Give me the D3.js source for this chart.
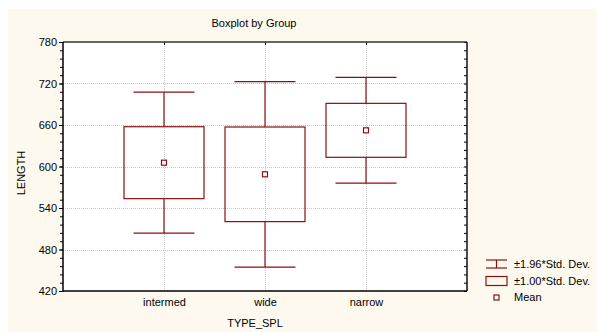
<!DOCTYPE html>
<html>
<head>
<meta charset="utf-8">
<script src="https://cdn.jsdelivr.net/npm/d3@7"></script>
<style>
  html, body { margin: 0; padding: 0; background: #ffffff; }
  svg { display: block; font-family: Arial, "Liberation Sans", sans-serif; }
</style>
</head>
<body>
<svg id="chart" width="597" height="332"></svg>
<script>
// Group statistics for LENGTH by TYPE_SPL
const groups = ["intermed", "wide", "narrow"];
const means = [605.5, 588.7, 652.3];
const stdDevs = [52.0, 68.4, 39.0];
const yTicks = [420, 480, 540, 600, 660, 720, 780];
const legendLabels = ["\u00b11.96*Std. Dev.", "\u00b11.00*Std. Dev.", "Mean"];

const W = 597, H = 332;
const plot = { left: 63, top: 42, right: 467, bottom: 291 };
const dark = "#8a1010";

const svg = d3.select("#chart");

// panel background
svg.append("rect").attr("x", 8).attr("y", 9).attr("width", W - 8).attr("height", H - 9)
  .attr("fill", "#fef9ee");
svg.append("rect").attr("x", plot.left).attr("y", plot.top)
  .attr("width", plot.right - plot.left).attr("height", plot.bottom - plot.top)
  .attr("fill", "#ffffff");

const y = d3.scaleLinear().domain([420, 780]).range([plot.bottom, plot.top]);
const xPos = d3.scaleLinear().domain([0, groups.length + 1]).range([plot.left, plot.right]);
const x = g => xPos(groups.indexOf(g) + 1);

// grid
const grid = svg.append("g").attr("stroke", "#c8c8c8").attr("stroke-dasharray", "1,1").attr("stroke-width", 1);
yTicks.slice(1, -1).forEach(t => {
  grid.append("line").attr("x1", plot.left).attr("x2", plot.right)
    .attr("y1", Math.round(y(t)) + 0.5).attr("y2", Math.round(y(t)) + 0.5);
});
groups.forEach(g => {
  grid.append("line").attr("x1", Math.round(x(g)) + 0.5).attr("x2", Math.round(x(g)) + 0.5)
    .attr("y1", plot.top).attr("y2", plot.bottom);
});

// left axis with minor ticks
const minor = d3.range(420, 781, 12);
const leftMinor = svg.append("g").attr("transform", `translate(${plot.left},0)`)
  .call(d3.axisLeft(y).tickValues(minor).tickSize(3).tickFormat(""));
leftMinor.select(".domain").remove();
leftMinor.selectAll("line").attr("stroke", "#000");
const leftMajor = svg.append("g").attr("transform", `translate(${plot.left},0)`)
  .call(d3.axisLeft(y).tickValues(yTicks).tickSize(4).tickPadding(2).tickFormat(d3.format("d")));
leftMajor.select(".domain").remove();
leftMajor.selectAll("text").attr("font-size", 11).attr("fill", "#000")
  .attr("font-family", "Arial, 'Liberation Sans', sans-serif");

// right axis ticks pointing inward
const rightAxis = svg.append("g").attr("transform", `translate(${plot.right},0)`)
  .call(d3.axisLeft(y).tickValues(minor).tickSize(3).tickFormat(""));
rightAxis.select(".domain").remove();
rightAxis.selectAll("line").attr("stroke", "#000");

// top axis ticks at categories
const topAxis = svg.append("g").attr("transform", `translate(0,${plot.top})`)
  .call(d3.axisBottom(xPos).tickValues(groups.map((g, i) => i + 1)).tickSize(3).tickFormat(""));
topAxis.select(".domain").remove();
topAxis.selectAll("line").attr("stroke", "#000");

// bottom axis labels
const bottomAxis = svg.append("g").attr("transform", `translate(0,${plot.bottom})`)
  .call(d3.axisBottom(xPos).tickValues(groups.map((g, i) => i + 1)).tickSize(0).tickPadding(7)
    .tickFormat(d => groups[d - 1]));
bottomAxis.select(".domain").remove();
bottomAxis.selectAll("text").attr("font-size", 11).attr("fill", "#000")
  .attr("font-family", "Arial, 'Liberation Sans', sans-serif");

// frame
svg.append("line").attr("x1", plot.left).attr("x2", plot.right).attr("y1", plot.top).attr("y2", plot.top)
  .attr("stroke", "#333").attr("stroke-width", 1.5);
svg.append("line").attr("x1", plot.right).attr("x2", plot.right).attr("y1", plot.top).attr("y2", plot.bottom)
  .attr("stroke", "#111").attr("stroke-width", 1.5);
svg.append("line").attr("x1", plot.left).attr("x2", plot.right).attr("y1", plot.bottom).attr("y2", plot.bottom)
  .attr("stroke", "#000").attr("stroke-width", 1.5);
svg.append("line").attr("x1", plot.left).attr("x2", plot.left).attr("y1", plot.top).attr("y2", plot.bottom)
  .attr("stroke", "#000").attr("stroke-width", 1.5);

// boxes: mean ±1 SD, whiskers: mean ±1.96 SD
const boxW = 80, capW = 61, markS = 5;
const marks = svg.append("g").attr("stroke", dark).attr("fill", "none").attr("stroke-width", 1.2);
groups.forEach((g, i) => {
  const cx = x(g);
  const m = means[i], s = stdDevs[i];
  const b1 = y(m + s), b0 = y(m - s);
  const w1 = y(m + 1.96 * s), w0 = y(m - 1.96 * s);
  marks.append("line").attr("x1", cx).attr("x2", cx).attr("y1", w1).attr("y2", b1);
  marks.append("line").attr("x1", cx).attr("x2", cx).attr("y1", b0).attr("y2", w0);
  marks.append("line").attr("x1", cx - capW / 2).attr("x2", cx + capW / 2).attr("y1", w1).attr("y2", w1);
  marks.append("line").attr("x1", cx - capW / 2).attr("x2", cx + capW / 2).attr("y1", w0).attr("y2", w0);
  marks.append("rect").attr("x", cx - boxW / 2).attr("y", b1).attr("width", boxW).attr("height", b0 - b1);
  marks.append("rect").attr("x", cx - markS / 2).attr("y", y(m) - markS / 2)
    .attr("width", markS).attr("height", markS).attr("fill", "#fff");
});

// titles
svg.append("text").attr("x", 254).attr("y", 27).attr("text-anchor", "middle")
  .attr("font-size", 11).text("Boxplot by Group");
svg.append("text").attr("x", 255).attr("y", 327).attr("text-anchor", "middle")
  .attr("font-size", 11).text("TYPE_SPL");
svg.append("text").attr("transform", "translate(25,173) rotate(-90)").attr("text-anchor", "middle")
  .attr("font-size", 11).text("LENGTH");

// legend
const lg = svg.append("g").attr("transform", "translate(486,264)");
const sym = lg.append("g").attr("stroke", dark).attr("fill", "none").attr("stroke-width", 1.2);
sym.append("line").attr("x1", 0).attr("x2", 21).attr("y1", -4).attr("y2", -4);
sym.append("line").attr("x1", 0).attr("x2", 21).attr("y1", 4).attr("y2", 4);
sym.append("line").attr("x1", 10.5).attr("x2", 10.5).attr("y1", -4).attr("y2", 4);
sym.append("rect").attr("x", 0).attr("y", 12.5).attr("width", 21).attr("height", 9);
sym.append("rect").attr("x", 8).attr("y", 31).attr("width", 5).attr("height", 5).attr("fill", "#fff");
legendLabels.forEach((t, i) => {
  lg.append("text").attr("x", 28).attr("y", i * 16.5 + 4).attr("font-size", 11).text(t);
});
</script>
</body>
</html>
